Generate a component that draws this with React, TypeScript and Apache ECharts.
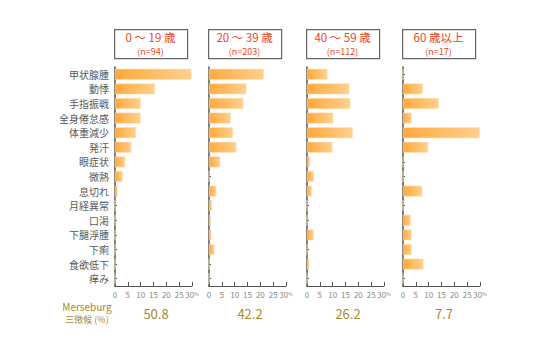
import React, { useEffect, useRef } from "react";
import * as echarts from "echarts";

const categories = ["甲状腺腫", "動悸", "手指振戦", "全身倦怠感", "体重減少", "発汗", "眼症状", "微熱", "息切れ", "月経異常", "口渇", "下腿浮腫", "下痢", "食欲低下", "痒み"];
const groupTitles = ["0 ～ 19 歳", "20 ～ 39 歳", "40 ～ 59 歳", "60 歳以上"];
const groupN = ["(n=94)", "(n=203)", "(n=112)", "(n=17)"];
const age0to19 = [29.8, 15.6, 10.0, 10.0, 8.2, 6.4, 4.0, 3.0, 1.1, 0, 0, 0, 0, 0, 0];
const age20to39 = [21.4, 14.6, 13.4, 8.5, 9.4, 10.7, 4.4, 0, 2.9, 1.2, 0.8, 0.9, 2.1, 0, 0];
const age40to59 = [8.0, 16.5, 16.9, 10.2, 17.8, 9.9, 1.2, 2.7, 1.9, 0, 0, 2.6, 0, 0.9, 0];
const age60plus = [0, 7.8, 14.0, 3.4, 29.9, 9.8, 0, 0, 7.6, 0, 3.1, 3.4, 3.4, 8.0, 0];
const merseburg = ["50.8", "42.2", "26.2", "7.7"];
const xTicks = [0, 5, 10, 15, 20, 25, 30];

const seriesData = [age0to19, age20to39, age40to59, age60plus];

export default function App() {
  const ref = useRef<HTMLDivElement>(null);
  useEffect(() => {
    if (!ref.current) return;
    const chart = echarts.init(ref.current, null, { renderer: "svg" });
    const lefts = [115, 209, 307, 403];
    const gw = 77;
    const top = 67;
    const bottom = 64;
    const font = "'Noto Sans CJK JP', 'Noto Sans', sans-serif";

    const grids = lefts.map((l) => ({ left: l, width: gw, top, bottom }));
    const xAxes = lefts.map((_, i) => ({
      type: "value",
      gridIndex: i,
      min: xTicks[0],
      max: xTicks[xTicks.length - 1],
      interval: 5,
      splitLine: { show: false },
      axisLine: { show: true, lineStyle: { color: "#555", width: 1 } },
      axisTick: { show: true, inside: true, length: 4, lineStyle: { color: "#555" } },
      axisLabel: {
        fontSize: 8,
        color: "#888",
        fontFamily: font,
        margin: 4,
        formatter: (v: number) => (v === 30 ? "30{p|%}" : String(v)),
        rich: { p: { fontSize: 5, color: "#888", padding: [0, 0, 2, 0] } },
      },
    }));
    const yAxes = lefts.map((_, i) => ({
      type: "category",
      gridIndex: i,
      data: categories,
      inverse: true,
      axisLine: { show: true, lineStyle: { color: "#555", width: 1.5 } },
      axisTick: { show: true, inside: true, alignWithLabel: true, length: 2, lineStyle: { color: "#555" } },
      axisLabel: { show: i === 0, fontSize: 10, color: "#5a5a5a", fontFamily: font, margin: 6 },
    }));
    const series = seriesData.map((d, i) => ({
      type: "bar",
      xAxisIndex: i,
      yAxisIndex: i,
      data: d,
      barWidth: 11,
      itemStyle: {
        color: new echarts.graphic.LinearGradient(0, 0, 1, 0, [
          { offset: 0, color: "#FFA93A" },
          { offset: 1, color: "#FFD08F" },
        ]),
        borderColor: "rgba(255,225,180,0.9)",
        borderWidth: 0.6,
      },
    }));

    const graphics: any[] = [];
    lefts.forEach((l, i) => {
      graphics.push({
        type: "rect",
        left: l - 1,
        top: 29,
        shape: { x: 0, y: 0, width: 73, height: 29 },
        style: { fill: "#fff", stroke: "#666", lineWidth: 1.2 },
      });
      graphics.push({
        type: "text",
        x: l - 1 + 36.5,
        y: 36.8,
        style: { text: groupTitles[i], fill: "#F0441E", fontSize: 11.5, lineHeight: 12, fontFamily: font, align: "center", verticalAlign: "middle" },
      });
      graphics.push({
        type: "text",
        x: l - 1 + 36.5,
        y: 51.2,
        style: { text: groupN[i], fill: "#F0441E", fontSize: 9, lineHeight: 10, fontFamily: font, align: "center", verticalAlign: "middle" },
      });
      graphics.push({
        type: "text",
        x: l + 41,
        y: 313,
        style: { text: merseburg[i], fill: "#A58A2C", fontSize: 13, fontFamily: font, align: "center", verticalAlign: "middle" },
      });
    });
    graphics.push({
      type: "text",
      x: 87,
      y: 306,
      style: { text: "Merseburg", fill: "#A58A2C", fontSize: 10, fontFamily: font, align: "center", verticalAlign: "middle" },
    });
    graphics.push({
      type: "text",
      x: 87,
      y: 319,
      style: { text: "三徴候 (%)", fill: "#A58A2C", fontSize: 9, fontFamily: font, align: "center", verticalAlign: "middle" },
    });

    chart.setOption({
      animation: false,
      backgroundColor: "#fff",
      grid: grids,
      xAxis: xAxes,
      yAxis: yAxes,
      series,
      graphic: graphics,
    });
    return () => chart.dispose();
  }, []);
  return <div ref={ref} style={{ width: 550, height: 350, position: "absolute", left: 0, top: 0 }} />;
}
